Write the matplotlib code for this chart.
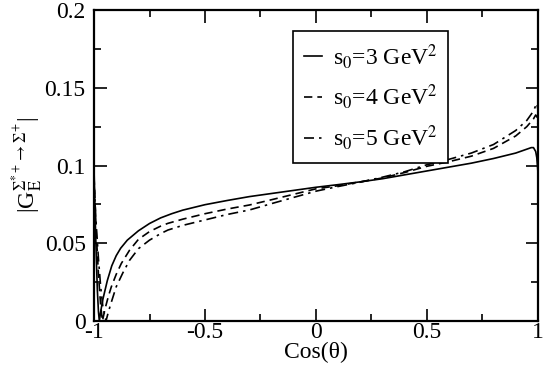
import matplotlib
matplotlib.use("Agg")
import matplotlib.pyplot as plt
from matplotlib.ticker import MultipleLocator, FuncFormatter

plt.rcParams["font.family"] = ["Liberation Serif", "DejaVu Serif"]
plt.rcParams["mathtext.fontset"] = "stix"
plt.rcParams["axes.unicode_minus"] = False

# s0 = 3 GeV^2
x_s3 = [-1.0, -0.995, -0.99, -0.985, -0.98, -0.976, -0.97, -0.96, -0.95, -0.94,
        -0.92, -0.9, -0.88, -0.85, -0.8, -0.75, -0.7, -0.65, -0.6, -0.5,
        -0.4, -0.3, -0.2, -0.1, 0.0, 0.1, 0.2, 0.3, 0.4, 0.5,
        0.6, 0.7, 0.8, 0.9, 0.95, 0.97, 0.98, 0.99, 0.995, 1.0]
g_s3 = [0.098, 0.068, 0.042, 0.020, 0.006, 0.0, 0.006, 0.014, 0.020, 0.026,
        0.0355, 0.042, 0.0468, 0.052, 0.058, 0.0627, 0.0663, 0.069, 0.0713, 0.0748,
        0.0775, 0.080, 0.082, 0.084, 0.086, 0.0877, 0.0895, 0.0915, 0.094, 0.0965,
        0.099, 0.1015, 0.1045, 0.108, 0.1105, 0.1115, 0.1115, 0.109, 0.105, 0.096]

# s0 = 4 GeV^2
x_s4 = [-1.0, -0.995, -0.99, -0.98, -0.97, -0.962, -0.95, -0.935, -0.922, -0.9,
        -0.877, -0.84, -0.8, -0.75, -0.7, -0.667, -0.6, -0.5, -0.4, -0.3,
        -0.2, -0.1, 0.0, 0.1, 0.2, 0.3, 0.4, 0.5, 0.6, 0.7,
        0.8, 0.9, 0.95, 0.98, 0.99, 0.997, 1.0]
g_s4 = [0.093, 0.075, 0.057, 0.030, 0.010, 0.0, 0.008, 0.016, 0.022, 0.030,
        0.037, 0.0455, 0.0525, 0.0575, 0.061, 0.0628, 0.0655, 0.069, 0.072, 0.0746,
        0.078, 0.0815, 0.085, 0.087, 0.0895, 0.092, 0.0955, 0.0995, 0.1025, 0.106,
        0.111, 0.119, 0.125, 0.130, 0.1325, 0.131, 0.126]

# s0 = 5 GeV^2
x_s5 = [-1.0, -0.995, -0.99, -0.98, -0.97, -0.96, -0.946, -0.935, -0.92, -0.9,
        -0.87, -0.84, -0.8, -0.75, -0.7, -0.667, -0.6, -0.5, -0.4, -0.3,
        -0.2, -0.1, 0.0, 0.1, 0.2, 0.3, 0.4, 0.5, 0.6, 0.7,
        0.8, 0.9, 0.95, 0.98, 0.99, 0.995, 1.0]
g_s5 = [0.088, 0.075, 0.062, 0.040, 0.022, 0.009, 0.0, 0.006, 0.013, 0.022,
        0.031, 0.039, 0.0465, 0.052, 0.0562, 0.0585, 0.0615, 0.065, 0.0685, 0.0714,
        0.0755, 0.0795, 0.0835, 0.0865, 0.0893, 0.0925, 0.096, 0.1005, 0.104, 0.108,
        0.1135, 0.1225, 0.129, 0.135, 0.1385, 0.140, 0.136]

labels = [r"s$_0$=3 GeV$^2$", r"s$_0$=4 GeV$^2$", r"s$_0$=5 GeV$^2$"]

fig = plt.figure(figsize=(5.45, 3.70), dpi=100)
ax = fig.add_axes([0.1725, 0.1324, 0.8145, 0.8406])

ax.plot(x_s3, g_s3, color="black", linewidth=1.2, linestyle="-", label=labels[0])
ax.plot(x_s4, g_s4, color="black", linewidth=1.2, linestyle=(0, (5, 3)), label=labels[1])
ax.plot(x_s5, g_s5, color="black", linewidth=1.2, linestyle=(0, (6, 3, 1.5, 3)), label=labels[2])

ax.set_xlim(-1, 1)
ax.set_ylim(0, 0.2)
ax.xaxis.set_major_locator(MultipleLocator(0.5))
ax.xaxis.set_minor_locator(MultipleLocator(0.25))
ax.yaxis.set_major_locator(MultipleLocator(0.05))
ax.yaxis.set_minor_locator(MultipleLocator(0.025))

fmt = FuncFormatter(lambda v, p: ("%g" % round(v, 3)))
ax.xaxis.set_major_formatter(fmt)
ax.yaxis.set_major_formatter(fmt)

ax.tick_params(which="both", direction="in", top=True, right=True, labelsize=17, width=1.2)
ax.tick_params(which="major", length=9)
ax.tick_params(which="minor", length=5)
ax.tick_params(axis="x", which="major", pad=1)
ax.tick_params(axis="y", which="major", pad=6)
for sp in ax.spines.values():
    sp.set_linewidth(1.6)

ax.set_xlabel("Cos(θ)", fontsize=17, labelpad=-1)
ax.set_ylabel(r"|G$_\mathrm{E}^{\Sigma^{*+}\rightarrow\Sigma^{+}}$|", fontsize=17, labelpad=0)

leg = ax.legend(loc="upper left", bbox_to_anchor=(0.448, 0.932), fontsize=17,
                handlelength=0.8, handletextpad=0.45, borderpad=0.45,
                labelspacing=0.5, borderaxespad=0, fancybox=False, framealpha=1)
leg.get_frame().set_edgecolor("black")
leg.get_frame().set_linewidth(1.2)

fig.savefig("out.png", dpi=100)
